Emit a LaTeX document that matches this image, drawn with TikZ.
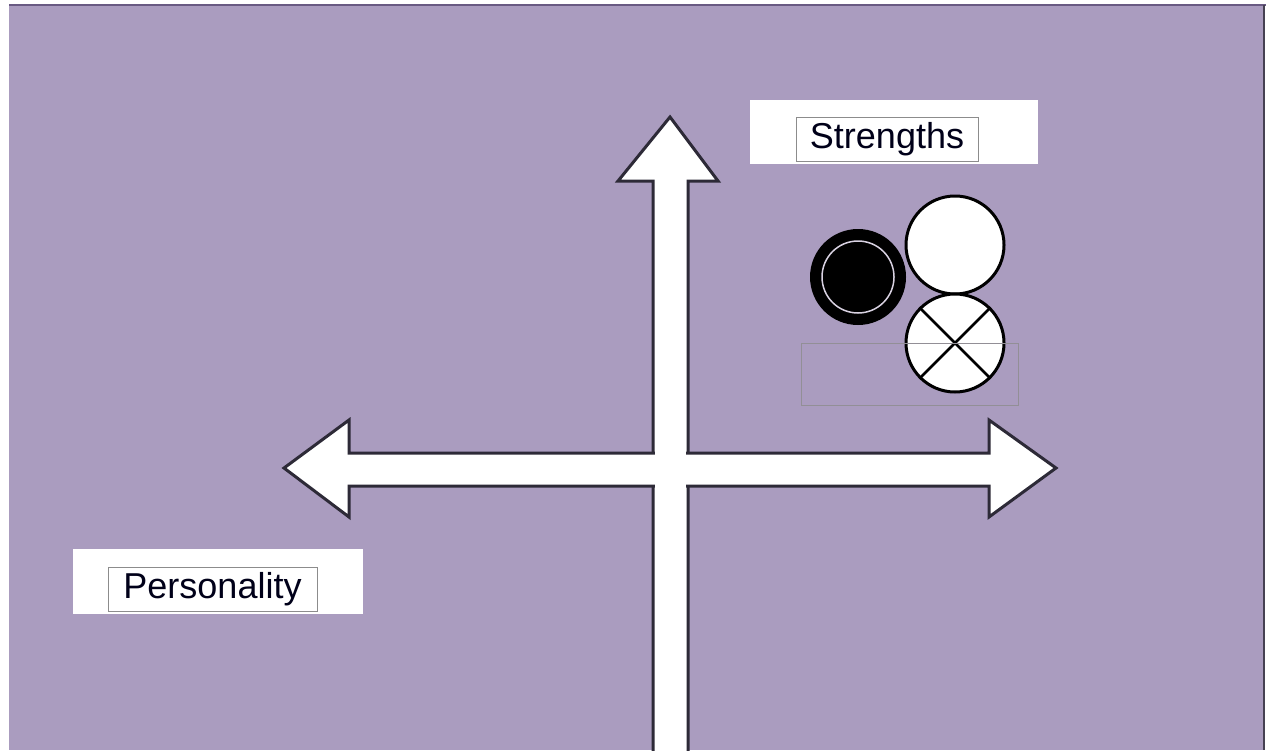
\documentclass[tikz,border=0pt]{standalone}
\usepackage{fontspec}
\setmainfont{Liberation Sans}
\definecolor{bgpurple}{RGB}{170,156,191}
\definecolor{framedark}{RGB}{105,90,130}
\definecolor{outl}{RGB}{45,42,55}
\definecolor{boxgray}{RGB}{140,140,140}
\begin{document}
\begin{tikzpicture}[x=1pt,y=-1pt,
  arrowshape/.style={fill=white,draw=outl,line width=3pt,line join=miter},
  labeltext/.style={draw=boxgray,line width=1pt,inner xsep=4pt,inner ysep=2pt,font=\fontsize{36}{40}\selectfont,text=black!90!blue},
  whitebox/.style={fill=white},
  thinbox/.style={draw=boxgray!80!bgpurple,line width=0.8pt}]
\useasboundingbox (0,0) rectangle (1281,750);
\clip (0,0) rectangle (1281,750);
% background
\fill[white] (0,0) rectangle (1281,750);
\fill[bgpurple] (9,4) rectangle (1264,750);
\draw[framedark,line width=2pt] (9,5) -- (1266,5);
\draw[outl!80!bgpurple,line width=2pt] (1264,5) -- (1264,750);
% vertical arrow
\draw[arrowshape] (670,117) -- (718,181) -- (688,181) -- (688,760) -- (653,760) -- (653,181) -- (618,181) -- cycle;
% horizontal arrow
\draw[arrowshape] (284,468) -- (349,420) -- (349,453) -- (989,453) -- (989,420) -- (1056,468)
  -- (989,517) -- (989,486) -- (349,486) -- (349,517) -- cycle;
% merge the crossing
\fill[white] (651,455.5) rectangle (690,483.5);
\fill[white] (655,450) rectangle (686,489);
% Strengths label
\fill[whitebox] (750,100) rectangle (1038,164);
\node[labeltext,minimum width=182pt,minimum height=44pt] (strengths) at (887,139) {Strengths};
% Personality label
\fill[whitebox] (73,549) rectangle (363,614);
\node[labeltext,minimum width=209pt,minimum height=44pt] (personality) at (212.5,589) {Personality};
% circles
\node[circle,fill=black,minimum size=96pt,inner sep=0pt] (ringcircle) at (858,277) {};
\draw[white!55!bgpurple,line width=1.5pt] (ringcircle.center) circle (36);
\node[circle,fill=white,draw=black,line width=3pt,minimum size=98pt,inner sep=0pt] (whitecircle) at (955,245) {};
\node[circle,fill=white,draw=black,line width=3pt,minimum size=98pt,inner sep=0pt] (crosscircle) at (955,343) {};
\draw[black,line width=2.6pt] (crosscircle.north east) -- (crosscircle.south west);
\draw[black,line width=2.6pt] (crosscircle.north west) -- (crosscircle.south east);
% thin empty frame
\draw[thinbox] (801,343) rectangle (1018,405);
\end{tikzpicture}
\end{document}
